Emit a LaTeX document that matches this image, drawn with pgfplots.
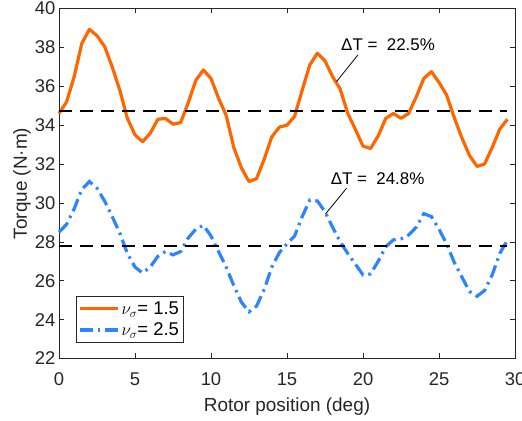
\documentclass[border=0pt]{standalone}
\usepackage{fontspec}
\setmainfont{Liberation Sans}
\usepackage{pgfplots}
\pgfplotsset{compat=1.18}
\definecolor{myorange}{RGB}{255,102,0}
\definecolor{myblue}{RGB}{45,132,255}
\definecolor{axgray}{RGB}{38,38,38}
\begin{document}
\begin{tikzpicture}
\begin{axis}[
  name=ax,
  scale only axis,
  width=456bp, height=350bp,
  xmin=0, xmax=30, ymin=22, ymax=40,
  xtick={0,5,...,30}, ytick={22,24,...,40},
  tick align=inside,
  major tick length=5bp,
  axis line style={axgray, line width=0.6bp},
  every tick/.style={axgray, line width=0.6bp},
  /pgf/number format/assume math mode=true,
  tick label style={font=\fontsize{18.5}{21}\selectfont, text=axgray},
  xticklabel style={anchor=center, yshift=-21bp},
  label style={font=\fontsize{19}{22}\selectfont, text=axgray},
  xlabel={Rotor position (deg)},
  ylabel={Torque (N·m)},
  xlabel style={at={([yshift=-48bp]axis description cs:0.5,0)}, anchor=center},
  ylabel style={at={([xshift=-37bp]axis description cs:0,0.5)}, anchor=center},
  legend style={at={(axis cs:1.12,22.82)}, anchor=south west, draw=axgray, line width=0.6bp,
    font=\fontsize{18.5}{21}\selectfont, cells={anchor=west}, row sep=3bp, inner xsep=2bp, inner ysep=3bp},
  legend image code/.code={\draw[#1] (0bp,0bp) -- (38bp,0bp);},
  clip=false,
]
\addplot[myorange, line width=3.2bp, line join=round] coordinates {
(0,34.6) (0.5,35.2) (1,36.5) (1.5,38.2) (2,38.93) (2.5,38.6) (3,38.05) (3.5,37.0)
(4,35.8) (4.5,34.35) (5,33.5) (5.5,33.15) (6,33.58) (6.5,34.3) (7,34.35) (7.5,34.05)
(8,34.13) (8.5,35.15) (9,36.3) (9.5,36.84) (10,36.4) (10.5,35.38) (11,34.5) (11.5,32.85)
(12,31.8) (12.5,31.1) (13,31.25) (13.5,32.25) (14,33.4) (14.5,33.9) (15,34.0) (15.5,34.45)
(16,35.8) (16.5,37.1) (17,37.7) (17.5,37.3) (18,36.5) (18.5,35.85) (19,34.6) (19.5,33.78)
(20,32.92) (20.5,32.8) (21,33.45) (21.5,34.35) (22,34.6) (22.5,34.35) (23,34.6) (23.5,35.45)
(24,36.4) (24.5,36.75) (25,36.2) (25.5,35.55) (26,34.4) (26.5,33.35) (27,32.45) (27.5,31.88)
(28,32.0) (28.5,32.85) (29,33.8) (29.5,34.3)
};
\addlegendentry{$\nu_\sigma$= 1.5}
\addplot[myblue, line width=3.2bp, dash pattern=on 13bp off 5bp on 2.5bp off 5bp] coordinates {
(0,28.5) (0.5,28.9) (1,29.7) (1.5,30.7) (2,31.1) (2.5,30.75) (3,30.1) (3.5,29.3)
(4,28.45) (4.5,27.4) (5,26.7) (5.5,26.4) (6,26.7) (6.5,27.25) (7,27.5) (7.5,27.33)
(8,27.5) (8.5,28.2) (9,28.65) (9.5,28.85) (10,28.3) (10.5,27.5) (11,26.7) (11.5,25.75)
(12,24.9) (12.5,24.4) (13,24.7) (13.5,25.55) (14,26.7) (14.5,27.45) (15,27.9) (15.5,28.3)
(16,29.3) (16.5,30.15) (17,30.1) (17.5,29.55) (18,28.75) (18.5,28.0) (19,27.4) (19.5,26.85)
(20,26.3) (20.5,26.35) (21,27.0) (21.5,27.75) (22,28.1) (22.5,28.15) (23,28.35) (23.5,28.75)
(24,29.45) (24.5,29.3) (25,28.65) (25.5,27.9) (26,26.95) (26.5,26.2) (27,25.45) (27.5,25.2)
(28,25.5) (28.5,26.3) (29,27.4) (29.5,28.1)
};
\addlegendentry{$\nu_\sigma$= 2.5}
\addplot[black, line width=2.5bp, dash pattern=on 13bp off 8bp, forget plot] coordinates {(0,34.73) (29.5,34.73)};
\addplot[black, line width=2.5bp, dash pattern=on 13bp off 8bp, forget plot] coordinates {(0,27.78) (29.5,27.78)};
\addplot[black, line width=0.8bp, forget plot] coordinates {(19.66,37.61) (18.26,36.24)};
\addplot[black, line width=0.8bp, forget plot] coordinates {(18.92,30.76) (17.53,29.43)};
\node[font=\fontsize{17}{20}\selectfont, text=black] at (axis cs:21.65,38.12) {ΔT = \ 22.5\%};
\node[font=\fontsize{17}{20}\selectfont, text=black] at (axis cs:20.96,31.27) {ΔT = \ 24.8\%};
\end{axis}
\pgfresetboundingbox
\path ([shift={(-59bp,-62.5bp)}]ax.south west) rectangle ([shift={(7bp,8.5bp)}]ax.north east);
\end{tikzpicture}
\end{document}
